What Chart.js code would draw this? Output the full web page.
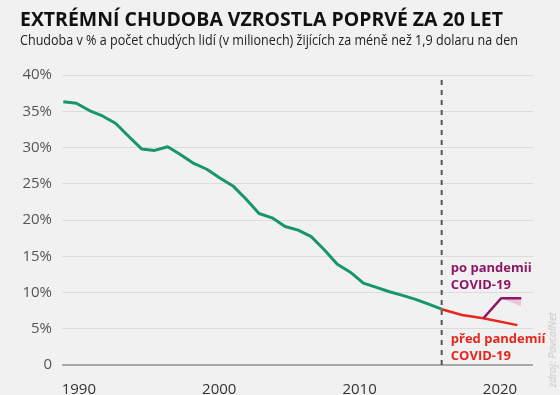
<!DOCTYPE html>
<html lang="cs">
<head>
<meta charset="utf-8">
<script src="https://cdn.jsdelivr.net/npm/chart.js@4.4.1/dist/chart.umd.min.js"></script>
<style>
    html, body { margin: 0; padding: 0; background: #f1f1f1; }
    #wrap { position: relative; width: 560px; height: 395px; overflow: hidden; }
    #chart { position: absolute; left: 0; top: 0; }
    .title { position: absolute; left: 20px; top: 9px; font: 700 20px/20px "Open Sans"; color: #111; white-space: nowrap; transform-origin: 0 0; }
    .sub { position: absolute; left: 20px; top: 33px; font: 400 14px/14px "Open Sans"; color: #222; white-space: nowrap; transform-origin: 0 0; }
    .src { position: absolute; left: 552px; top: 350px; transform: translate(-50%, -50%) rotate(-90deg); font: italic 10.5px "Open Sans"; color: #c6c6c6; white-space: nowrap; }
</style>
</head>
<body>
<div id="wrap">
    <canvas id="chart" width="560" height="395"></canvas>
    <div class="title" id="title">EXTRÉMNÍ CHUDOBA VZROSTLA POPRVÉ ZA 20 LET</div>
    <div class="sub" id="sub">Chudoba v % a počet chudých lidí (v milionech) žijících za méně než 1,9 dolaru na den</div>
    <div class="src">zdroj: PovcalNet</div>
</div>
<script>
// data
var years = [1990, 1991, 1992, 1993, 1994, 1995, 1996, 1997, 1998, 1999,
             2000, 2001, 2002, 2003, 2004, 2005, 2006, 2007, 2008, 2009,
             2010, 2011, 2012, 2013, 2014, 2015, 2016, 2017, 2018, 2019];
var poverty = [36.3, 36.1, 35.1, 34.35, 33.35, 31.55, 29.8, 29.6, 30.1, 29.0,
               27.8, 27.0, 25.8, 24.7, 22.9, 20.9, 20.3, 19.1, 18.6, 17.7,
               15.9, 13.9, 12.8, 11.3, 10.7, 10.1, 9.6, 9.05, 8.4, 7.7];

var preYears = [2019, 2020.55, 2022.2, 2024.8];
var preCovid = [7.7, 6.9, 6.45, 5.5];

var postYears = [2022.2, 2023.55, 2025.1];
var postCovid = [6.45, 9.2, 9.2];

var rangeYears = [2023.55, 2025.1];
var rangeHigh = [9.2, 9.2];
var rangeLow = [9.2, 8.1];

var cutYear = 2019;
var xLabels = [1990, 2000, 2010, 2020];

var green = "#17966a";
var red = "#e6261f";
var purple = "#8c1766";

function pts(xs, ys) {
    return xs.map(function (x, i) { return { x: x, y: ys[i] }; });
}

// fit header texts to the widths in the picture
function fitWidth(id, w) {
    var el = document.getElementById(id);
    var r = w / el.getBoundingClientRect().width;
    el.style.transform = "scaleX(" + r + ")";
}
fitWidth("title", 483);
fitWidth("sub", 498);

var notes = [
    { lines: ["po pandemii", "COVID-19"], color: purple, year: 2019.7, at: [12.8, 10.5] },
    { lines: ["před pandemií", "COVID-19"], color: red, year: 2019.7, at: [3.0, 0.75] }
];

var notesPlugin = {
    id: "notes",
    afterDatasetsDraw: function (chart) {
        var ctx = chart.ctx;
        var xs = chart.scales.xd;
        var ys = chart.scales.y;
        ctx.save();
        ctx.font = "700 13px 'Open Sans'";
        ctx.textAlign = "left";
        ctx.textBaseline = "alphabetic";
        notes.forEach(function (n) {
            ctx.fillStyle = n.color;
            n.lines.forEach(function (t, i) {
                ctx.fillText(t, xs.getPixelForValue(n.year), ys.getPixelForValue(n.at[i]));
            });
        });
        ctx.restore();
    }
};

var ctx = document.getElementById("chart").getContext("2d");
window.myChart = new Chart(ctx, {
    type: "line",
    data: {
        datasets: [
            {
                data: pts(postYears, postCovid),
                xAxisID: "xd",
                borderColor: purple,
                borderWidth: 2.5
            },
            {
                data: pts(preYears, preCovid),
                xAxisID: "xd",
                borderColor: red,
                borderWidth: 2.5
            },
            {
                data: pts(years, poverty),
                xAxisID: "xd",
                borderColor: green,
                borderWidth: 3
            },
            {
                data: pts(rangeYears, rangeHigh),
                xAxisID: "xd",
                borderWidth: 0,
                borderColor: "rgba(0,0,0,0)"
            },
            {
                data: pts(rangeYears, rangeLow),
                xAxisID: "xd",
                borderWidth: 0,
                borderColor: "rgba(0,0,0,0)",
                backgroundColor: "#eac4da",
                fill: "-1"
            },
            {
                data: [{ x: cutYear, y: 0 }, { x: cutYear, y: 40 }],
                xAxisID: "xd",
                borderColor: "#555",
                borderWidth: 2,
                borderDash: [5, 5]
            }
        ]
    },
    options: {
        responsive: false,
        animation: false,
        devicePixelRatio: 1,
        layout: { padding: { top: 75, right: 27, bottom: 0, left: 0 } },
        elements: {
            point: { radius: 0 },
            line: { tension: 0, fill: false, borderJoinStyle: "round" }
        },
        plugins: {
            legend: { display: false },
            tooltip: { enabled: false },
            title: { display: false }
        },
        scales: {
            x: {
                type: "linear",
                min: 1988.8,
                max: 2022.35,
                grid: { display: false },
                border: { display: false },
                ticks: {
                    color: "#333",
                    font: { family: "Open Sans", size: 15 },
                    padding: 8,
                    maxRotation: 0,
                    callback: function (v) { return String(v); }
                },
                afterBuildTicks: function (s) {
                    s.ticks = xLabels.map(function (v) { return { value: v }; });
                },
                afterFit: function (s) { s.height = 30; }
            },
            xd: {
                type: "linear",
                display: false,
                min: 1989.9,
                max: 2026
            },
            y: {
                min: 0,
                max: 40,
                border: { display: false },
                grid: {
                    drawTicks: false,
                    color: function (c) { return c.tick.value === 0 ? "#a8a8a8" : "#dcdcdc"; },
                    lineWidth: function (c) { return c.tick.value === 0 ? 2 : 1; }
                },
                ticks: {
                    stepSize: 5,
                    color: "#555",
                    font: { family: "Open Sans", size: 15 },
                    padding: 10,
                    callback: function (v) { return v === 0 ? "0" : v + "%"; }
                },
                afterFit: function (s) { s.width = 62; }
            }
        }
    },
    plugins: [notesPlugin]
});
</script>
</body>
</html>
